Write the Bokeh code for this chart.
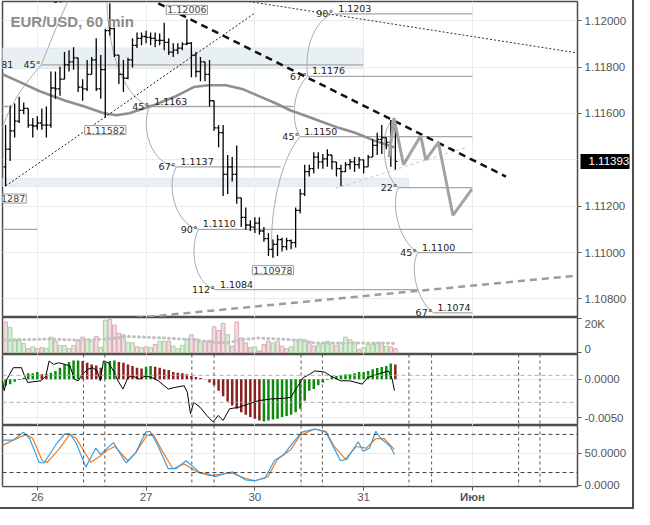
from bokeh.plotting import figure
from bokeh.layouts import column
from bokeh.models import (Range1d, FixedTicker, NumeralTickFormatter, Label, Span, LinearAxis)
from bokeh.core.properties import value
from bokeh.embed import file_html
from bokeh.resources import INLINE

# ---------------- data ----------------
# hour index: 0 = 26 May 00:00 (weekend skipped)
day_ticks = [0, 24, 48, 72, 96]
day_labels = ["26", "27", "30", "31", "Июн"]
month_ticks = [96]
bar_idx = list(range(-7, 80))

opn = [1.11370, 1.11446, 1.11525, 1.11567, 1.11613, 1.11622, 1.11550, 1.11546, 1.11559, 1.11550,
       1.11550, 1.11710, 1.11706, 1.11748, 1.11810, 1.11823, 1.11840, 1.11714, 1.11706, 1.11769,
       1.11831, 1.11706, 1.11789, 1.11957, 1.11966, 1.11852, 1.11769, 1.11752, 1.11831, 1.11894,
       1.11924, 1.11932, 1.11928, 1.11924, 1.11915, 1.11915, 1.11907, 1.11865, 1.11873, 1.11882,
       1.11899, 1.11903, 1.11852, 1.11781, 1.11823, 1.11769, 1.11655, 1.11538, 1.11517, 1.11337,
       1.11370, 1.11337, 1.11236, 1.11152, 1.11119, 1.11110, 1.11127, 1.11093, 1.11060, 1.11014,
       1.11035, 1.11056, 1.11026, 1.11052, 1.11043, 1.11182, 1.11253, 1.11349, 1.11362, 1.11412,
       1.11391, 1.11404, 1.11421, 1.11391, 1.11362, 1.11349, 1.11379, 1.11391, 1.11379, 1.11400,
       1.11370, 1.11412, 1.11462, 1.11488, 1.11496, 1.11475, 1.11538]
high = [1.11550, 1.11634, 1.11643, 1.11672, 1.11647, 1.11622, 1.11580, 1.11588, 1.11622, 1.11630,
        1.11781, 1.11781, 1.11802, 1.11865, 1.11873, 1.11886, 1.11840, 1.11748, 1.11831, 1.11844,
        1.11924, 1.11852, 1.11966, 1.12075, 1.11970, 1.11852, 1.11831, 1.11840, 1.11924, 1.11949,
        1.11949, 1.11957, 1.11949, 1.11949, 1.11945, 1.11991, 1.11924, 1.11903, 1.11903, 1.11907,
        1.12006, 1.11907, 1.11865, 1.11844, 1.11823, 1.11831, 1.11655, 1.11550, 1.11550, 1.11421,
        1.11412, 1.11462, 1.11236, 1.11194, 1.11140, 1.11152, 1.11152, 1.11110, 1.11085, 1.11056,
        1.11077, 1.11064, 1.11064, 1.11056, 1.11194, 1.11274, 1.11379, 1.11379, 1.11433, 1.11433,
        1.11425, 1.11446, 1.11421, 1.11391, 1.11379, 1.11391, 1.11404, 1.11412, 1.11412, 1.11400,
        1.11421, 1.11488, 1.11517, 1.11550, 1.11496, 1.11572, 1.11546]
low = [1.11287, 1.11395, 1.11496, 1.11559, 1.11597, 1.11538, 1.11496, 1.11530, 1.11530, 1.11496,
       1.11538, 1.11664, 1.11676, 1.11748, 1.11781, 1.11789, 1.11693, 1.11655, 1.11697, 1.11769,
       1.11697, 1.11664, 1.11582, 1.11936, 1.11844, 1.11727, 1.11693, 1.11748, 1.11798, 1.11882,
       1.11894, 1.11903, 1.11894, 1.11886, 1.11894, 1.11873, 1.11852, 1.11844, 1.11857, 1.11873,
       1.11894, 1.11756, 1.11756, 1.11739, 1.11739, 1.11630, 1.11525, 1.11454, 1.11244, 1.11253,
       1.11307, 1.11211, 1.11110, 1.11098, 1.11093, 1.11085, 1.11077, 1.11047, 1.10985, 1.10978,
       1.10985, 1.11005, 1.11010, 1.11014, 1.11022, 1.11169, 1.11244, 1.11328, 1.11341, 1.11362,
       1.11362, 1.11370, 1.11358, 1.11328, 1.11286, 1.11349, 1.11358, 1.11349, 1.11362, 1.11341,
       1.11370, 1.11412, 1.11421, 1.11425, 1.11446, 1.11370, 1.11358]
close = [1.11446, 1.11525, 1.11567, 1.11613, 1.11622, 1.11550, 1.11546, 1.11559, 1.11550, 1.11550,
         1.11710, 1.11706, 1.11748, 1.11810, 1.11823, 1.11840, 1.11714, 1.11706, 1.11769, 1.11831,
         1.11706, 1.11789, 1.11957, 1.11966, 1.11852, 1.11769, 1.11752, 1.11831, 1.11894, 1.11924,
         1.11932, 1.11928, 1.11924, 1.11915, 1.11915, 1.11907, 1.11865, 1.11873, 1.11882, 1.11899,
         1.11903, 1.11852, 1.11781, 1.11823, 1.11769, 1.11655, 1.11538, 1.11517, 1.11337, 1.11370,
         1.11337, 1.11236, 1.11152, 1.11119, 1.11110, 1.11127, 1.11093, 1.11060, 1.11014, 1.11035,
         1.11056, 1.11026, 1.11052, 1.11043, 1.11182, 1.11253, 1.11349, 1.11362, 1.11412, 1.11391,
         1.11404, 1.11421, 1.11391, 1.11362, 1.11349, 1.11379, 1.11391, 1.11379, 1.11400, 1.11370,
         1.11412, 1.11462, 1.11488, 1.11496, 1.11475, 1.11538, 1.11393]
last_price = 1.11393
price_ticks = [1.108, 1.110, 1.112, 1.116, 1.118, 1.120]

# moving average on price panel
ma_x = [-7.7, -3.8, 0.4, 6.2, 10.4, 14.7, 17.5, 20.3, 25.4, 30.3, 34.5, 37.7, 41.6, 45.2, 48.8,
        52.7, 55.9, 59.5, 62.9, 66.5, 70.1, 74.4, 78.7]
ma_v = [1.11769, 1.11735, 1.11697, 1.11655, 1.11630, 1.11601, 1.11592, 1.11601, 1.11634, 1.11672,
        1.11714, 1.11722, 1.11722, 1.11706, 1.11676, 1.11643, 1.11613, 1.11588, 1.11563, 1.11538,
        1.11517, 1.11483, 1.11454]

# volume
vol = [18000, 14800, 8000, 8000, 5300, 2300, 3400, 2300, 2900, 2500,
       9100, 6700, 4200, 4200, 2300, 4200, 7600, 9100, 8000, 6700,
       9500, 3000, 19000, 19400, 16200, 11400, 10500, 6100, 5700, 3400,
       2900, 3400, 2900, 4800, 6700, 6700, 6700, 3800, 2300, 4200,
       8000, 10500, 8000, 6100, 6700, 7200, 15200, 13000, 17100, 10500,
       3800, 18000, 8600, 5700, 2900, 3400, 1000, 4800, 6700, 5700,
       6700, 3800, 2300, 3400, 7600, 8000, 7600, 6700, 3800, 4500,
       5700, 6700, 5700, 4200, 5700, 9100, 7600, 6100, 1900, 2900,
       4800, 4800, 5700, 5700, 3800, 3400, 2300]
vol_dir = list("rggggrgrrg" "grggrgrrgg" "rggrrrrggr" "grgrggrggg" "grrgrrrrrg"
               "rrrrrgrrrg" "rrrggggrrg" "gggrggggrg" "gggrgrr")
vma_x = [-7.4, 2.6, 9.7, 15.4, 20.3, 27.4, 34.5, 38.1, 41.6, 45.2, 48.8, 55.9, 59.4, 61.2, 68.3, 75.4, 79.0]
vma_v = [7200, 8000, 7200, 8000, 9500, 8600, 7600, 6300, 5700, 7600, 8600, 7600, 6300, 5700, 5700, 5700, 5300]

# MACD
hist = [-0.00085, -0.00064, -0.00034, -0.00010, 0.00020, 0.00077, 0.00077, 0.00094, 0.00064, 0.00064,
        0.00085, 0.00107, 0.00149, 0.00192, 0.00222, 0.00243, 0.00243, 0.00235, 0.00213, 0.00192,
        0.00179, 0.00149, 0.00213, 0.00235, 0.00243, 0.00222, 0.00213, 0.00192, 0.00171, 0.00149,
        0.00137, 0.00162, 0.00171, 0.00162, 0.00149, 0.00128, 0.00120, 0.00094, 0.00085, 0.00077,
        0.00064, 0.00043, 0.00030, 0.00017, 0.00004, -0.00043, -0.00077, -0.00149, -0.00222, -0.00290,
        -0.00342, -0.00384, -0.00427, -0.00461, -0.00491, -0.00512, -0.00534, -0.00547, -0.00534, -0.00521,
        -0.00512, -0.00491, -0.00478, -0.00461, -0.00427, -0.00384, -0.00278, -0.00149, -0.00128, -0.00077,
        -0.00043, -0.00010, 0.00043, 0.00043, 0.00051, 0.00060, 0.00064, 0.00077, 0.00094, 0.00094,
        0.00107, 0.00128, 0.00145, 0.00158, 0.00171, 0.00205, 0.00192]
hist_dir = list("ggggggggrr" "gggggggrrr" "rrgggrrrrr" "rggrrrrrrr" "rrrrrrrrrr"
                "rrrrrrrggg" "gggggggggg" "gggggggggg" "ggggggr")
macd_x = [-7.7, -7.3, -6.7, -5.3, -3.5, -2.8, -2.1, -1.0, 0.8, 1.9, 2.6, 3.6, 4.7, 6.1, 7.2, 8.2, 9.0,
          10.0, 11.1, 12.2, 13.2, 13.9, 14.6, 15.7, 16.8, 17.8, 18.9, 20.0, 21.0, 22.5, 23.9, 25.3,
          26.7, 28.9, 30.3, 32.4, 33.1, 33.8, 34.5, 35.9, 37.4, 38.8, 39.9, 41.0, 42.4, 44.5, 46.6,
          48.8, 51.6, 54.4, 55.9, 57.3, 58.7, 60.1, 61.2, 63.3, 64.7, 66.9, 69.0, 71.7, 72.9, 75.1,
          77.5, 78.3, 78.8]
macd_v = [-0.00021, -0.00149, 0.0, 0.00149, 0.00149, 0.00043, -0.00043, -0.00034, -0.00021, 0.00043,
          0.00235, 0.00192, 0.00213, 0.00192, 0.00171, 0.0, -0.00021, 0.00064, 0.00128, 0.00149,
          0.00107, -0.00021, 0.00235, 0.00213, 0.00107, -0.00021, -0.00128, 0.00021, 0.00043, 0.0,
          0.00043, 0.00021, -0.00021, -0.00128, -0.00107, -0.00085, -0.00171, -0.00448, -0.00299, -0.00363,
          -0.00470, -0.00555, -0.00470, -0.00534, -0.00384, -0.00363, -0.00320, -0.00278, -0.00256, -0.00248,
          -0.00235, -0.00107, 0.00021, 0.00064, 0.00107, 0.00094, 0.00043, -0.00021, -0.00021, -0.00064,
          0.00021, 0.00064, 0.00107, 0.0, -0.00149]
macd_levels = [0.0005, -0.0030]

# Stochastic
stk_x = [-8.1, -5.3, -3.1, -1.7, 0.4, 1.5, 4.3, 6.1, 7.2, 8.6, 10.7, 12.9, 13.9, 16.8, 19.6, 21.7,
         23.9, 24.9, 26.7, 28.9, 30.6, 32.8, 34.5, 36.0, 37.4, 39.2, 41.6, 43.1, 45.9, 48.0, 50.2,
         52.3, 54.4, 56.6, 58.4, 61.2, 63.7, 65.1, 66.9, 68.3, 70.8, 71.9, 73.3, 74.7, 75.8, 77.9, 78.8]
stk_v = [71, 71, 83.5, 73.5, 36, 35, 66, 81, 81, 66, 28.5, 58.5, 48.5, 67, 35, 51, 83.5, 85, 61, 26,
         26, 38.5, 28.5, 18.5, 18.5, 13.5, 18.5, 21, 8.5, 7, 11, 38.5, 48.5, 68.5, 83.5, 88.5, 83.5,
         63.5, 38.5, 41, 68.5, 53.5, 58.5, 85, 73.5, 61, 48.5]
std_x = [-8.1, -5.3, -2.4, -1.0, 1.1, 2.2, 4.7, 7.2, 8.6, 11.8, 13.9, 15.4, 17.1, 20.0, 21.7, 24.2,
         25.7, 27.4, 29.9, 32.4, 35.3, 38.1, 41.6, 43.1, 45.9, 48.0, 50.9, 53.0, 55.9, 58.0, 61.2,
         63.7, 65.5, 68.0, 70.4, 72.6, 74.7, 76.5, 78.8]
std_v = [61, 71, 80, 73.5, 38.5, 36, 56, 80, 73.5, 36, 46, 55, 61, 38.5, 51, 78.5, 78.5, 56, 26, 33.5,
         21, 15, 18.5, 18.5, 11, 7, 13.5, 41, 56, 78.5, 88.5, 85, 61, 41, 61, 58.5, 73.5, 73.5, 56]
stoch_levels = [80, 20]

session_marks = [10.2, 14.9, 34.1, 39.0, 58.2, 62.9, 82.0, 87.0, 106.2, 110.9]

# ---- drawing objects on the price panel ----
lvl_price = [1.1203, 1.1176, 1.1150, 1.1163, 1.1137, 1.1110, 1.1084, 1.1128, 1.1100, 1.1074, 1.1181]
lvl_x0 = [65.5, 59.7, 58.0, 24.9, 30.7, 35.6, 39.4, 79.7, 84.0, 87.4, 0.9]
lvl_x1 = [96, 96, 96, 56.5, 53.7, 96, 84.2, 96, 96, 96, 71.9]
lvl_angle = ["90°", "67°", "45°", "45°", "67°", "90°", "112°", "22°", "45°", "67°", "45°"]
lvl_label = ["1.1203", "1.1176", "1.1150", "1.1163", "1.1137", "1.1110", "1.1084", "", "1.1100", "1.1074", ""]
stub_price = [1.1110, 1.1163]
stub_x0 = [-8.0, -8.0]
stub_x1 = [0.0, -6.4]
note_text = ["1.1181", "67°"]
note_x = [-5.3, 7.0]
note_y = [1.1181, 1.12091]

arc_x0 = [15.35, 24.9, 30.7, 35.6, 52.0, 58.0, 59.7, 78.25, 79.7, 84.0, 7.25, 0.9]
arc_y0 = [1.12083, 1.1163, 1.1137, 1.1110, 1.10978, 1.1150, 1.1176, 1.11571, 1.1128, 1.1100, 1.12104, 1.1181]
arc_cx0 = [15.78, 23.03, 28.57, 33.69, 50.75, 55.86, 59.06, 75.48, 78.04, 82.30, 4.69, -2.77]
arc_cy0 = [1.11831, 1.11580, 1.11307, 1.11035, 1.11140, 1.11559, 1.11831, 1.11517, 1.11223, 1.10951, 1.11999, 1.11727]
arc_cx1 = [19.62, 23.88, 29.85, 34.12, 53.73, 56.29, 59.70, 76.12, 79.32, 83.16, 2.56, -6.40]
arc_cy1 = [1.11664, 1.11391, 1.11127, 1.10867, 1.11412, 1.11706, 1.11978, 1.11328, 1.11056, 1.10804, 1.11894, 1.11643]
arc_x1 = [24.9, 30.7, 35.6, 39.4, 58.0, 59.7, 65.0, 79.7, 84.0, 87.4, 0.9, -9.17]
arc_y1 = [1.1163, 1.1137, 1.1110, 1.1084, 1.1150, 1.1176, 1.1203, 1.1128, 1.1100, 1.1074, 1.1181, 1.11454]

band_x0 = [-8.0, -8.0]
band_x1 = [71.9, 81.9]
band_lo = [1.11794, 1.11286]
band_hi = [1.11882, 1.11320]

res_line_x = [26.7, 103.4]
res_line_y = [1.12075, 1.11328]
up_dot_x = [-7.0, 48.0]
up_dot_y = [1.11287, 1.12033]
dn_dot_x = [46.7, 119.2]
dn_dot_y = [1.12083, 1.11861]
sup_dash_x = [21.7, 119.2]
sup_dash_y = [1.10718, 1.10901]
chan_x = [65.9, 94.7]
chan_y = [1.11278, 1.11454]
zig_x = [77.6, 78.7, 80.8, 84.6, 85.7, 88.5, 91.7, 95.9]
zig_y = [1.11412, 1.11580, 1.11379, 1.11504, 1.11400, 1.11475, 1.11161, 1.11274]

box_text = ["1.12006", "1.11582", "1.10978", "1.11287"]
box_x = [33, 15, 52, -7]
box_y = [1.12006, 1.11582, 1.10978, 1.11287]
box_up = [True, False, False, False]

# ---------------- layout ----------------
W = 632
XR = Range1d(-7.68, 119.19)
GRID = "#ebebeb"
AX = "#555555"
FONT = "Liberation Sans"
LBL = value("DejaVu Sans")


def make(height, yr, bottom=False, top=0):
    f = figure(width=W, height=height, x_range=XR, y_range=yr, y_axis_location="right",
               x_axis_location="below" if bottom else None, output_backend="svg",
               toolbar_location=None, min_border_left=2, min_border_right=54,
               min_border_top=top, min_border_bottom=21 if bottom else 0)
    f.outline_line_color = "#4d4d4d"
    f.outline_line_width = 1.5
    f.background_fill_color = "white"
    f.border_fill_color = "white"
    for ax in f.yaxis:
        ax.axis_line_color = None
        ax.major_tick_out = 4
        ax.major_tick_in = 0
        ax.minor_tick_line_color = None
        ax.major_tick_line_color = AX
        ax.major_label_text_color = AX
        ax.major_label_text_font = FONT
        ax.major_label_text_font_size = "11.5px"
        ax.major_label_standoff = 3
    f.xgrid.ticker = FixedTicker(ticks=day_ticks)
    f.xgrid.grid_line_color = GRID
    f.ygrid.grid_line_color = GRID
    return f


# ---- price panel ----
p = make(317, Range1d(1.10720, 1.12083), top=1)
p.yaxis.ticker = FixedTicker(ticks=price_ticks)
p.yaxis.formatter = NumeralTickFormatter(format="0.00000")
p.ygrid.ticker = FixedTicker(ticks=price_ticks + [1.114])

p.quad(left=band_x0, right=band_x1, bottom=band_lo, top=band_hi,
       fill_color="#e9f0f3", line_color="#dfe8ec", line_width=1)
p.segment(x0=lvl_x0, y0=lvl_price, x1=lvl_x1, y1=lvl_price, line_color="#a6a6a6", line_width=1.3)
p.segment(x0=stub_x0, y0=stub_price, x1=stub_x1, y1=stub_price, line_color="#a6a6a6", line_width=1.3)
p.bezier(x0=arc_x0, y0=arc_y0, x1=arc_x1, y1=arc_y1, cx0=arc_cx0, cy0=arc_cy0,
         cx1=arc_cx1, cy1=arc_cy1, line_color="#ababab", line_width=1)
p.line(ma_x, ma_v, line_color="#8f8f8f", line_width=2.6)
p.line(up_dot_x, up_dot_y, line_color="#222222", line_width=1, line_dash="2 2")
p.line(dn_dot_x, dn_dot_y, line_color="#333333", line_width=1, line_dash="2 2")
p.line(sup_dash_x, sup_dash_y, line_color="#9c9c9c", line_width=2.5, line_dash="7 5")
p.line(chan_x, chan_y, line_color="#c6c6c6", line_width=1, line_dash="3 3")

op_x0 = [i - 0.45 for i in bar_idx]
cl_x1 = [i + 0.45 for i in bar_idx]
p.segment(x0=bar_idx, y0=low, x1=bar_idx, y1=high, line_color="black", line_width=1.3)
p.segment(x0=op_x0, y0=opn, x1=bar_idx, y1=opn, line_color="black", line_width=1.3)
p.segment(x0=bar_idx, y0=close, x1=cl_x1, y1=close, line_color="black", line_width=1.3)

p.line(res_line_x, res_line_y, line_color="#111111", line_width=2.5, line_dash="7 5")
p.line(zig_x, zig_y, line_color="#a3a3a3", line_width=3)

p.text(x=lvl_x0, y=lvl_price, text=lvl_angle, text_align="right", text_baseline="middle",
       x_offset=-1, text_font=LBL, text_font_size="9.5px", text_color="#222222")
p.text(x=lvl_x0, y=lvl_price, text=lvl_label, text_align="left", text_baseline="bottom",
       x_offset=4, y_offset=-2, text_font=LBL, text_font_size="9.5px", text_color="#222222")
p.text(x=note_x, y=note_y, text=note_text, text_align="right", text_baseline="middle",
       text_font=LBL, text_font_size="9.5px", text_color="#222222")

for t, bx, by, up in zip(box_text, box_x, box_y, box_up):
    p.add_layout(Label(x=bx, y=by, text=t, text_align="center",
                       text_baseline="bottom" if up else "top",
                       y_offset=5 if up else -8, text_font="DejaVu Sans",
                       text_font_size="9.5px", text_color="#444444",
                       background_fill_color="white", border_line_color="#9a9a9a",
                       border_line_width=1, padding=1))

p.add_layout(Label(x=XR.start, y=1.12083, x_offset=8, y_offset=-11, text="EUR/USD, 60 min",
                   text_baseline="top", text_align="left", text_font=FONT,
                   text_font_style="bold", text_font_size="15px", text_color="#8c8c8c"))

# current price marker: a second price axis whose single inward tick forms the black box
cur_ax = LinearAxis(ticker=FixedTicker(ticks=[last_price]),
                    formatter=NumeralTickFormatter(format="0.00000"))
cur_ax.axis_line_color = None
cur_ax.minor_tick_line_color = None
cur_ax.major_tick_out = 0
cur_ax.major_tick_in = 49
cur_ax.major_tick_line_width = 15
cur_ax.major_tick_line_color = "black"
cur_ax.major_tick_line_cap = "butt"
cur_ax.major_label_text_color = "white"
cur_ax.major_label_text_font = FONT
cur_ax.major_label_text_font_size = "11.5px"
cur_ax.major_label_standoff = -41
p.add_layout(cur_ax, "right")

# ---- volume panel ----
v = make(37, Range1d(-1100, 20600))
v.yaxis.ticker = FixedTicker(ticks=[0, 20000])
v.yaxis.major_label_overrides = {0: "0", 20000: "20K"}
v.ygrid.grid_line_color = None
v.vbar(x=bar_idx, top=vol, bottom=0, width=0.82,
       fill_color=["#d9eed5" if d == "g" else "#f1dde1" for d in vol_dir],
       line_color=["#a8d2a2" if d == "g" else "#d8a9b3" for d in vol_dir], line_width=1)
v.line(vma_x, vma_v, line_color="#c2c2c2", line_width=3, line_dash="1 4", line_cap="round")

# ---- MACD panel ----
m = make(71, Range1d(-0.0060, 0.0032))
m.yaxis.ticker = FixedTicker(ticks=[-0.005, 0.0])
m.yaxis.formatter = NumeralTickFormatter(format="0.0000")
m.ygrid.ticker = FixedTicker(ticks=[-0.005, 0.0])
for lv in macd_levels:
    m.add_layout(Span(location=lv, dimension="width", line_color="#b0b0b0", line_dash="4 3", line_width=1))
m.vbar(x=bar_idx, top=hist, bottom=0, width=0.55, line_color=None,
       fill_color=["#0c8a0c" if d == "g" else "#8c1f1f" for d in hist_dir])
m.line(macd_x, macd_v, line_color="black", line_width=1)
for s in session_marks:
    m.add_layout(Span(location=s, dimension="height", line_color="#555555", line_dash="3 3", line_width=1))

# ---- Stochastic panel ----
s_ = make(82, Range1d(-2, 94), bottom=True)
s_.yaxis.ticker = FixedTicker(ticks=[0, 50])
s_.yaxis.formatter = NumeralTickFormatter(format="0.0000")
s_.ygrid.ticker = FixedTicker(ticks=[0, 50])
for lv in stoch_levels:
    s_.add_layout(Span(location=lv, dimension="width", line_color="#444444", line_dash="4 3", line_width=1))
for s in session_marks:
    s_.add_layout(Span(location=s, dimension="height", line_color="#555555", line_dash="3 3", line_width=1))
s_.line(std_x, std_v, line_color="#f47b20", line_width=1.2)
s_.line(stk_x, stk_v, line_color="#35a0ea", line_width=1.2)


def style_x(ax, bold=False):
    ax.axis_line_color = None
    ax.minor_tick_line_color = None
    ax.major_tick_line_color = AX
    ax.major_label_text_color = AX
    ax.major_label_text_font = FONT
    ax.major_label_text_font_size = "11.5px"
    if bold:
        ax.major_label_text_font_style = "bold"


xa = s_.xaxis[0]
xa.ticker = FixedTicker(ticks=day_ticks)
xa.major_label_overrides = {t: (l if t not in month_ticks else "") for t, l in zip(day_ticks, day_labels)}
xa.major_tick_out = 4
xa.major_tick_in = 0
xa.major_label_standoff = 2
style_x(xa)

# month label in bold, overlapping the day-label row
mx = LinearAxis(ticker=FixedTicker(ticks=month_ticks),
                major_label_overrides={t: l for t, l in zip(day_ticks, day_labels) if t in month_ticks})
style_x(mx, bold=True)
mx.major_tick_out = 0
mx.major_tick_in = 0
mx.major_label_standoff = -13
s_.add_layout(mx, "below")

layout = column(p, v, m, s_, spacing=0,
                styles={"border-right": "2px solid #4d4d4d", "border-bottom": "2px solid #4d4d4d"})
open("out.html", "w").write(file_html(layout, INLINE))
